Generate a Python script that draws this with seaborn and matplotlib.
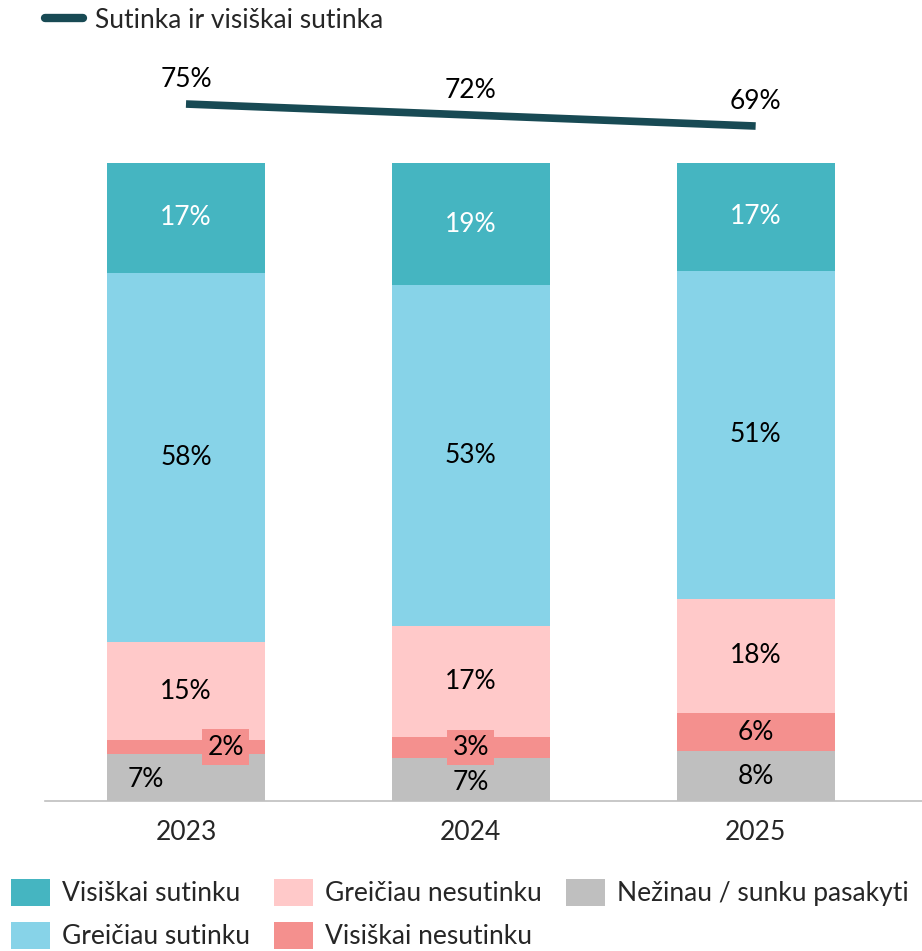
import numpy as np
import pandas as pd
import matplotlib.pyplot as plt
import seaborn as sns
from matplotlib.lines import Line2D
from matplotlib.patches import Patch

# data (shares in %, bottom to top of each bar)
years = ['2023', '2024', '2025']
nezinau = [7.4, 6.7, 7.8]
visiskai_nesutinku = [2.1, 3.3, 6.0]
greiciau_nesutinku = [15.4, 17.4, 17.9]
greiciau_sutinku = [57.8, 53.4, 51.4]
visiskai_sutinku = [17.3, 19.2, 16.9]
sutinka_total = [75, 72, 69]

series_names = ['Nežinau / sunku pasakyti', 'Visiškai nesutinku', 'Greičiau nesutinku',
                'Greičiau sutinku', 'Visiškai sutinku']
series_values = [nezinau, visiskai_nesutinku, greiciau_nesutinku, greiciau_sutinku, visiskai_sutinku]
colors = ['#BFBFBF', '#F4908E', '#FFC9C9', '#87D3E8', '#45B5C1']
line_color = '#184A54'

sns.set_style('white')
plt.rcParams['font.family'] = ['Lato', 'DejaVu Sans']
FS = 19

fig = plt.figure(figsize=(9.22, 9.51), dpi=100)
ax = fig.add_axes([45 / 922, 150 / 951, 877 / 922, 741 / 951])

df = pd.DataFrame(dict(zip(series_names, series_values)), index=years)
cum = df.cumsum(axis=1)

# stacked bars: draw cumulative totals from the top down so each layer covers the next
for name, col in reversed(list(zip(series_names, colors))):
    sns.barplot(x=years, y=cum[name].values, color=col, saturation=1, width=0.555,
                linewidth=0, ax=ax)

ax.set_xlim(-0.495, 2.584)
ax.set_ylim(0, 116.1)

# segment labels
for i, yr in enumerate(years):
    base = 0
    for j, name in enumerate(series_names):
        v = df.loc[yr, name]
        mid = base + v / 2
        x = i
        txt_color = 'white' if name == 'Visiškai sutinku' else 'black'
        bbox = None
        if name == 'Visiškai nesutinku' and v < 5:
            bbox = dict(boxstyle='square,pad=0.2', facecolor=colors[1], edgecolor='none')
            if i == 0:
                x = i + 0.14
        if name == 'Nežinau / sunku pasakyti' and i == 0:
            x = i - 0.14
            mid = base + v / 2 - 0.3
        if name == 'Nežinau / sunku pasakyti' and i == 1:
            mid = base + v / 2 - 0.4
        ax.text(x, mid, f'{v:.0f}%', ha='center', va='center', fontsize=FS,
                color=txt_color, bbox=bbox)
        base += v

# line on its own scale
ax2 = ax.twinx()
sns.lineplot(x=[0, 1, 2], y=sutinka_total, color=line_color, linewidth=5.5, ax=ax2)
for ln in ax2.get_lines():
    ln.set_solid_capstyle('butt')
ax2.set_ylim(-115, 87)
ax2.set_xlim(-0.495, 2.584)
for i, v in enumerate(sutinka_total):
    ax2.text(i, v + 6.8, f'{v}%', ha='center', va='center', fontsize=FS, color='black')
ax2.axis('off')

# axes styling
sns.despine(ax=ax, left=True, top=True, right=True)
ax.spines['bottom'].set_color('#BFBFBF')
ax.spines['bottom'].set_linewidth(1.2)
ax.set_yticks([])
ax.set_ylabel('')
ax.tick_params(axis='x', length=0, labelsize=FS, pad=14)

# top legend (line)
line_handle = Line2D([0], [0], color=line_color, linewidth=6, solid_capstyle='round')
fig.legend([line_handle], ['Sutinka ir visiškai sutinka'], loc='center left',
           bbox_to_anchor=(34 / 922, 1 - 20 / 951), frameon=False, fontsize=FS,
           handlelength=1.45, handletextpad=0.45, borderaxespad=0)

# bottom legend (bars)
order = ['Visiškai sutinku', 'Greičiau sutinku', 'Greičiau nesutinku', 'Visiškai nesutinku',
         'Nežinau / sunku pasakyti']
handles = [Patch(facecolor=colors[series_names.index(n)], edgecolor='none') for n in order]
fig.legend(handles, order, loc='upper left', bbox_to_anchor=(0 / 922, 1 - 868 / 951), ncol=3,
           frameon=False, fontsize=FS, handlelength=1.5, handleheight=1.2, handletextpad=0.45,
           columnspacing=0.9, labelspacing=0.6, borderaxespad=0)

fig.savefig('out.png', dpi=100)
